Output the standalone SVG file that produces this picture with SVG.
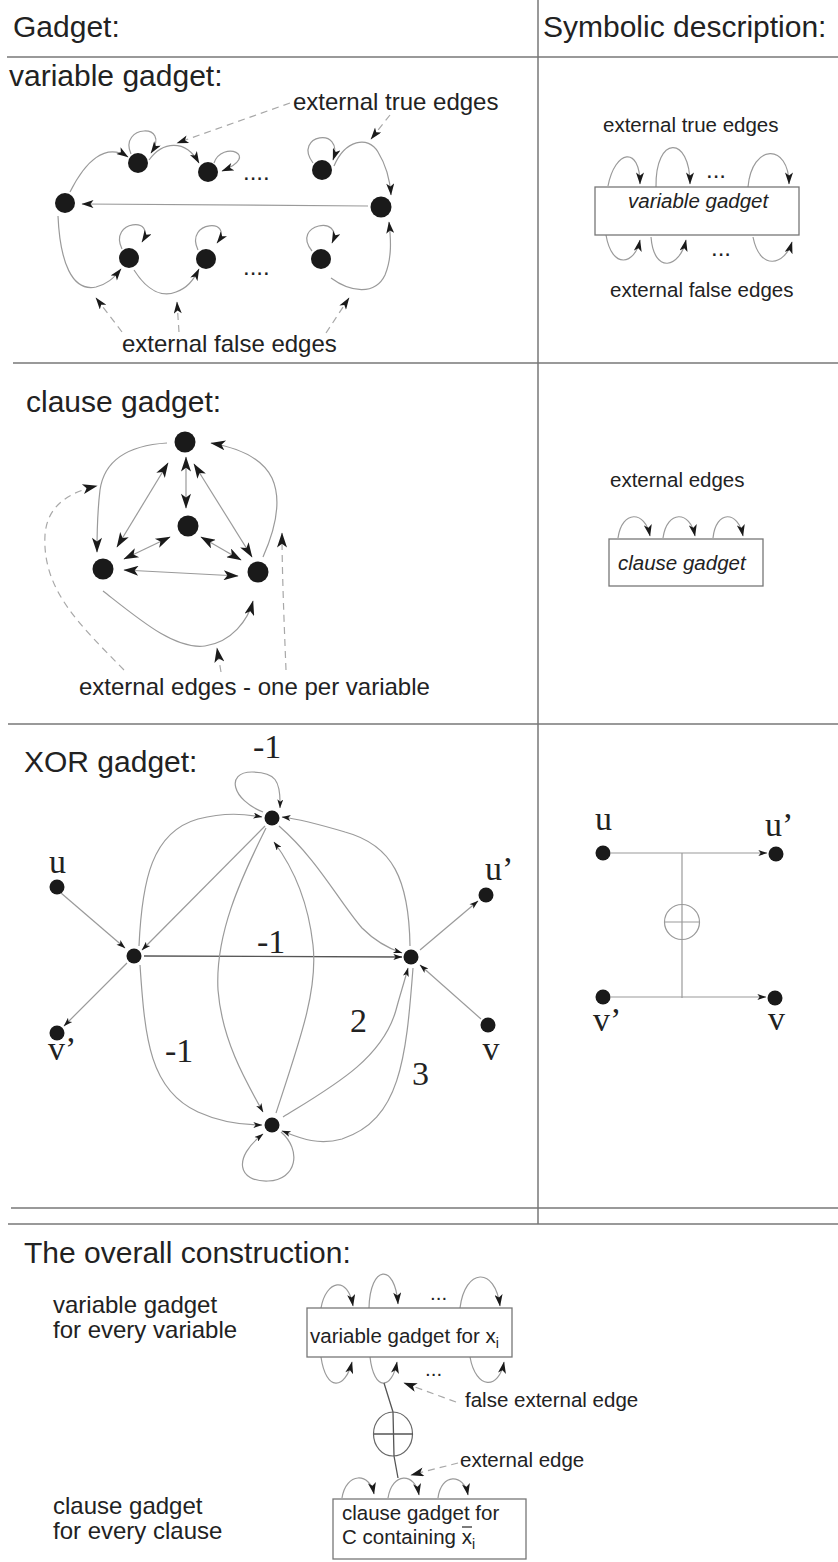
<svg xmlns="http://www.w3.org/2000/svg" width="838" height="1562" viewBox="0 0 838 1562">
<style>
text{font-family:"Liberation Sans",Arial,sans-serif;fill:#222}
.h{font-size:30px}
.l{font-size:24px}
.s{font-size:20.5px}
.it{font-style:italic}
.ser{font-family:"Liberation Serif","Times New Roman",serif;font-size:34px}
.e{fill:none;stroke:#9a9a9a;stroke-width:1.2}
.dk{fill:none;stroke:#555;stroke-width:1.3}
.d{fill:none;stroke:#a8a8a8;stroke-width:1.2;stroke-dasharray:7 5}
.g{stroke:#777;stroke-width:1.5;fill:none}
.n{fill:#1a1a1a}
.box{fill:#fff;stroke:#777;stroke-width:1.3}
.v .e,.v .d{marker-end:url(#av)}
</style>
<defs>
<marker id="av" viewBox="0 0 12 8" refX="11.5" refY="4" markerWidth="13" markerHeight="8" markerUnits="userSpaceOnUse" orient="auto-start-reverse"><path d="M0,0 L12,4 L0,8 L3,4 z" fill="#1a1a1a"/></marker>
<marker id="ac" viewBox="0 0 12 8" refX="11.5" refY="4" markerWidth="19" markerHeight="10" markerUnits="userSpaceOnUse" orient="auto-start-reverse"><path d="M0,0 L12,4 L0,8 L3,4 z" fill="#1a1a1a"/></marker>
<marker id="ax" viewBox="0 0 12 8" refX="11.5" refY="4" markerWidth="11" markerHeight="6" markerUnits="userSpaceOnUse" orient="auto-start-reverse"><path d="M0,0 L12,4 L0,8 L3,4 z" fill="#1a1a1a"/></marker>
<marker id="as" viewBox="0 0 12 8" refX="11.5" refY="4" markerWidth="14" markerHeight="8" markerUnits="userSpaceOnUse" orient="auto-start-reverse"><path d="M0,0 L12,4 L0,8 L3,4 z" fill="#1a1a1a"/></marker>
<marker id="ab" viewBox="0 0 12 8" refX="11.5" refY="4" markerWidth="17" markerHeight="9" markerUnits="userSpaceOnUse" orient="auto-start-reverse"><path d="M0,0 L12,4 L0,8 L3,4 z" fill="#1a1a1a"/></marker>
</defs>
<rect width="838" height="1562" fill="#fff"/>

<g id="table">
<line class="g" x1="538" y1="0" x2="538" y2="1224"/>
<line class="g" x1="7" y1="57" x2="838" y2="57"/>
<line class="g" x1="13" y1="363" x2="838" y2="363"/>
<line class="g" x1="8" y1="724" x2="838" y2="724"/>
<line class="g" x1="11" y1="1208" x2="838" y2="1208"/>
<line class="g" x1="8" y1="1224" x2="838" y2="1224"/>
<text class="h" x="13" y="37">Gadget:</text>
<text class="h" x="543" y="37">Symbolic description:</text>
</g>

<!-- ===== variable gadget ===== -->
<g id="variable-gadget-title"><text class="h" x="9" y="86">variable gadget:</text></g>
<g id="var-connectors" class="v">
<path class="e" d="M368,206 L82,204"/>
<path class="e" d="M70,192 C85,162 105,142 128,157"/>
<path class="e" d="M149,160 C162,142 185,138 199,163"/>
<path class="e" d="M131,154 C118,125 172,122 151,153"/>
<path class="e" d="M214,163 C222,140 262,155 222,171"/>
<path class="e" d="M313,163 C292,135 345,125 333,160"/>
<path class="e" d="M334,166 C345,140 368,135 378,152 C386,165 390,180 391,195"/>
<path class="e" d="M58,216 C60,262 72,292 96,287 C107,284 113,279 121,269"/>
<path class="e" d="M134,270 C148,292 163,297 176,292 C187,288 193,281 199,269"/>
<path class="e" d="M331,278 C350,292 375,296 385,275 C392,258 391,240 389,222"/>
<path class="e" d="M122,249 C108,220 158,216 142,242"/>
<path class="e" d="M198,250 C184,220 236,218 217,243"/>
<path class="e" d="M312,251 C290,224 345,214 332,243"/>
<path class="d" d="M290,103 L177,143"/>
<path class="d" d="M390,115 L371,139"/>
<path class="d" d="M122,332 L96,298"/>
<path class="d" d="M179,332 L177,302"/>
<path class="d" d="M326,333 L349,298"/>
</g>
<g id="var-node-L"><circle class="n" cx="65" cy="203" r="10"/></g>
<g id="var-node-R"><circle class="n" cx="381" cy="207" r="10.5"/></g>
<g id="var-node-T1"><circle class="n" cx="138" cy="163" r="10"/></g>
<g id="var-node-T2"><circle class="n" cx="208" cy="172" r="10"/></g>
<g id="var-node-T3"><circle class="n" cx="322" cy="170" r="10"/></g>
<g id="var-node-B1"><circle class="n" cx="129" cy="258" r="10"/></g>
<g id="var-node-B2"><circle class="n" cx="206" cy="259" r="10"/></g>
<g id="var-node-B3"><circle class="n" cx="321" cy="259" r="10"/></g>
<g id="var-labels">
<text class="l" x="243" y="180">....</text>
<text class="l" x="243" y="275">....</text>
<text class="l" x="293" y="110">external true edges</text>
<text class="l" x="122" y="352">external false edges</text>
</g>

<!-- symbolic variable gadget -->
<g id="sym-var-connectors">
<path class="e" marker-end="url(#as)" d="M608,186 C615,150 640,145 640,184"/>
<path class="e" marker-end="url(#as)" d="M656,187 C655,135 690,135 690,184"/>
<path class="e" marker-end="url(#as)" d="M748,187 C752,143 789,143 789,184"/>
<path class="e" marker-end="url(#as)" d="M606,235 C612,270 635,265 640,240"/>
<path class="e" marker-end="url(#as)" d="M651,237 C654,275 680,268 686,240"/>
<path class="e" marker-end="url(#as)" d="M753,237 C760,272 785,265 792,242"/>
</g>
<g id="sym-var-box">
<rect class="box" x="595" y="187" width="204" height="48"/>
<text class="s it" x="628" y="208">variable gadget</text>
</g>
<g id="sym-var-labels">
<text class="s" x="603" y="132">external true edges</text>
<text class="s" x="610" y="297">external false edges</text>
<text class="l" x="706" y="178">...</text>
<text class="l" x="711" y="256">...</text>
</g>

<!-- ===== clause gadget ===== -->
<g id="clause-gadget-title"><text class="h" x="26" y="412">clause gadget:</text></g>
<g id="clause-connectors">
<path class="e" marker-start="url(#ac)" marker-end="url(#ac)" d="M186,457 L186,508"/>
<path class="e" marker-start="url(#ac)" marker-end="url(#ac)" d="M168,463 L117,547"/>
<path class="e" marker-start="url(#ac)" marker-end="url(#ac)" d="M194,464 L252,557"/>
<path class="e" marker-start="url(#ac)" marker-end="url(#ac)" d="M170,537 L124,559"/>
<path class="e" marker-start="url(#ac)" marker-end="url(#ac)" d="M201,537 L241,560"/>
<path class="e" marker-start="url(#ac)" marker-end="url(#ac)" d="M124,570 L238,576"/>
<path class="e" marker-end="url(#ac)" d="M167,443 C135,445 105,455 100,490 C97,515 97,535 97,552"/>
<path class="e" marker-end="url(#ac)" d="M263,557 C275,530 282,500 272,478 C262,458 240,448 211,443"/>
<path class="e" marker-end="url(#ac)" d="M103,591 C140,620 175,650 205,646 C232,642 248,620 253,601"/>
<path class="d" marker-end="url(#ac)" d="M124,670 C80,625 42,590 45,535 C47,505 70,492 97,486"/>
<path class="d" marker-end="url(#ac)" d="M221,672 L217,648"/>
<path class="d" marker-end="url(#ac)" d="M286,670 C284,620 282,570 282,533"/>
</g>
<g id="clause-node-A"><circle class="n" cx="185" cy="442" r="10.5"/></g>
<g id="clause-node-M"><circle class="n" cx="188" cy="526" r="10.5"/></g>
<g id="clause-node-BL"><circle class="n" cx="103" cy="569" r="10.5"/></g>
<g id="clause-node-BR"><circle class="n" cx="258" cy="572" r="10.5"/></g>
<g id="clause-label"><text class="l" x="79" y="695">external edges - one per variable</text></g>

<!-- symbolic clause gadget -->
<g id="sym-clause-connectors">
<path class="e" marker-end="url(#as)" d="M618,538 C622,510 645,510 650,536"/>
<path class="e" marker-end="url(#as)" d="M663,538 C667,510 690,510 695,536"/>
<path class="e" marker-end="url(#as)" d="M713,538 C716,510 738,510 743,536"/>
</g>
<g id="sym-clause-box">
<rect class="box" x="609" y="539" width="154" height="47"/>
<text class="s it" x="618" y="570">clause gadget</text>
</g>
<g id="sym-clause-label"><text class="s" x="610" y="487">external edges</text></g>

<!-- ===== XOR gadget ===== -->
<g id="xor-title"><text class="h" x="24" y="772">XOR gadget:</text></g>
<g id="xor-connectors">
<path class="e" marker-end="url(#ax)" d="M263,812 C232,800 225,772 252,772 C275,772 281,780 280,808"/>
<path class="e" marker-end="url(#ax)" d="M139,946 C142,880 152,832 198,819 C225,812 245,814 262,817"/>
<path class="e" marker-end="url(#ax)" d="M265,826 L142,950"/>
<path class="e" marker-end="url(#ax)" d="M410,946 C409,880 393,845 345,832 C318,824 298,819 282,817"/>
<path class="e" marker-end="url(#ax)" d="M279,826 C318,860 338,900 362,928 C376,942 390,949 402,953"/>
<path class="e" marker-end="url(#ax)" d="M61,893 L125,948"/>
<path class="e" marker-end="url(#ax)" d="M420,950 L478,901"/>
<path class="dk" marker-end="url(#ax)" d="M144,956 L402,957"/>
<path class="e" marker-end="url(#ax)" d="M127,963 L64,1026"/>
<path class="e" marker-end="url(#ax)" d="M481,1019 L420,965"/>
<path class="e" marker-end="url(#ax)" d="M266,828 C240,880 215,935 218,990 C222,1040 245,1080 263,1112"/>
<path class="e" marker-end="url(#ax)" d="M276,1113 C300,1040 318,990 313,945 C308,900 292,866 274,842"/>
<path class="e" marker-end="url(#ax)" d="M140,965 C145,1040 150,1090 198,1112 C220,1122 240,1125 262,1125"/>
<path class="e" marker-end="url(#ax)" d="M283,1117 C330,1088 382,1060 396,1010 C400,995 404,983 408,968"/>
<path class="e" marker-end="url(#ax)" d="M413,968 C406,1060 400,1120 342,1139 C316,1146 298,1137 282,1131"/>
<path class="e" marker-end="url(#ax)" d="M281,1132 C302,1150 297,1180 268,1181 C238,1182 232,1158 263,1134"/>
</g>
<g id="xor-node-N"><circle class="n" cx="272" cy="818" r="7.5"/></g>
<g id="xor-node-u"><circle class="n" cx="57" cy="887" r="7.5"/><text class="ser" x="49" y="873">u</text></g>
<g id="xor-node-u2"><circle class="n" cx="486" cy="895" r="7.5"/><text class="ser" x="485" y="880">u’</text></g>
<g id="xor-node-W"><circle class="n" cx="134" cy="956" r="7.5"/></g>
<g id="xor-node-E"><circle class="n" cx="411" cy="957" r="7.5"/></g>
<g id="xor-node-v2"><circle class="n" cx="57" cy="1033" r="7.5"/><text class="ser" x="48" y="1060">v’</text></g>
<g id="xor-node-v"><circle class="n" cx="488" cy="1025" r="7.5"/><text class="ser" x="491" y="1060" text-anchor="middle">v</text></g>
<g id="xor-node-S"><circle class="n" cx="272" cy="1125" r="7.5"/></g>
<g id="xor-weights">
<text class="ser" x="253" y="758">-1</text>
<text class="ser" x="257" y="953">-1</text>
<text class="ser" x="165" y="1062">-1</text>
<text class="ser" x="350" y="1032">2</text>
<text class="ser" x="412" y="1085">3</text>
</g>

<!-- symbolic XOR -->
<g id="sym-xor-connectors">
<path class="e" marker-end="url(#ax)" d="M611,853 L767,853"/>
<path class="e" marker-end="url(#ax)" d="M611,997 L766,997"/>
<path class="e" d="M682,853 L682,998"/>
</g>
<g id="sym-xor-oplus"><circle cx="682" cy="922" r="17.5" fill="#fff" stroke="#999" stroke-width="1.2"/><path class="e" d="M665,922 L700,922 M682,904.5 L682,939.5"/></g>
<g id="sym-xor-u"><circle class="n" cx="603" cy="853" r="7.5"/><text class="ser" x="595" y="830">u</text></g>
<g id="sym-xor-u2"><circle class="n" cx="776" cy="854" r="7.5"/><text class="ser" x="765" y="836">u’</text></g>
<g id="sym-xor-v2"><circle class="n" cx="603" cy="997" r="7.5"/><text class="ser" x="593" y="1031">v’</text></g>
<g id="sym-xor-v"><circle class="n" cx="775" cy="998" r="7.5"/><text class="ser" x="768" y="1030">v</text></g>

<!-- ===== overall construction ===== -->
<g id="overall-title"><text class="h" x="24" y="1263">The overall construction:</text></g>
<g id="overall-left-labels">
<text class="l" x="53" y="1313">variable gadget</text>
<text class="l" x="53" y="1338">for every variable</text>
<text class="l" x="53" y="1514">clause gadget</text>
<text class="l" x="53" y="1539">for every clause</text>
</g>
<g id="overall-connectors">
<path class="e" marker-end="url(#as)" d="M321,1308 C326,1280 348,1275 353,1306"/>
<path class="e" marker-end="url(#as)" d="M369,1308 C370,1265 395,1262 398,1304"/>
<path class="e" marker-end="url(#as)" d="M460,1308 C465,1268 495,1266 500,1306"/>
<path class="e" marker-end="url(#as)" d="M321,1357 C326,1392 345,1390 352,1362"/>
<path class="e" marker-end="url(#as)" d="M370,1357 C374,1392 392,1390 397,1362"/>
<path class="e" marker-end="url(#as)" d="M470,1357 C476,1390 499,1390 504,1362"/>
<path class="dk" d="M384,1383 L393,1412 M394,1456 L398,1478"/>
<path class="e" marker-end="url(#as)" d="M342,1498 C346,1472 370,1472 374,1494"/>
<path class="e" marker-end="url(#as)" d="M388,1498 C392,1472 415,1472 419,1495"/>
<path class="e" marker-end="url(#as)" d="M438,1498 C441,1473 464,1473 468,1495"/>
<path class="d" marker-end="url(#ab)" d="M456,1402 L404,1383"/>
<path class="d" marker-end="url(#ab)" d="M458,1463 L411,1475"/>
</g>
<g id="overall-var-box">
<rect class="box" x="307" y="1308" width="205" height="49"/>
<text class="s" x="310" y="1343">variable gadget for x<tspan font-size="14" dy="5">i</tspan></text>
</g>
<g id="overall-dots">
<text class="s" x="430" y="1300">...</text>
<text class="s" x="425" y="1376">...</text>
</g>
<g id="overall-oplus"><ellipse cx="393" cy="1434" rx="19.5" ry="22" fill="#fff" stroke="#666" stroke-width="1.2"/><path class="dk" d="M393,1412 L394,1456 M374,1434 L413,1434"/></g>
<g id="overall-clause-box">
<rect class="box" x="333" y="1499" width="193" height="60"/>
<text class="s" x="342" y="1520">clause gadget for</text>
<text class="s" x="342" y="1544">C containing x<tspan font-size="14" dy="5">i</tspan></text>
<line x1="462" y1="1527" x2="472" y2="1527" stroke="#222" stroke-width="1.2"/>
</g>
<g id="overall-labels">
<text class="s" x="465" y="1407">false external edge</text>
<text class="s" x="460" y="1467">external edge</text>
</g>
</svg>
